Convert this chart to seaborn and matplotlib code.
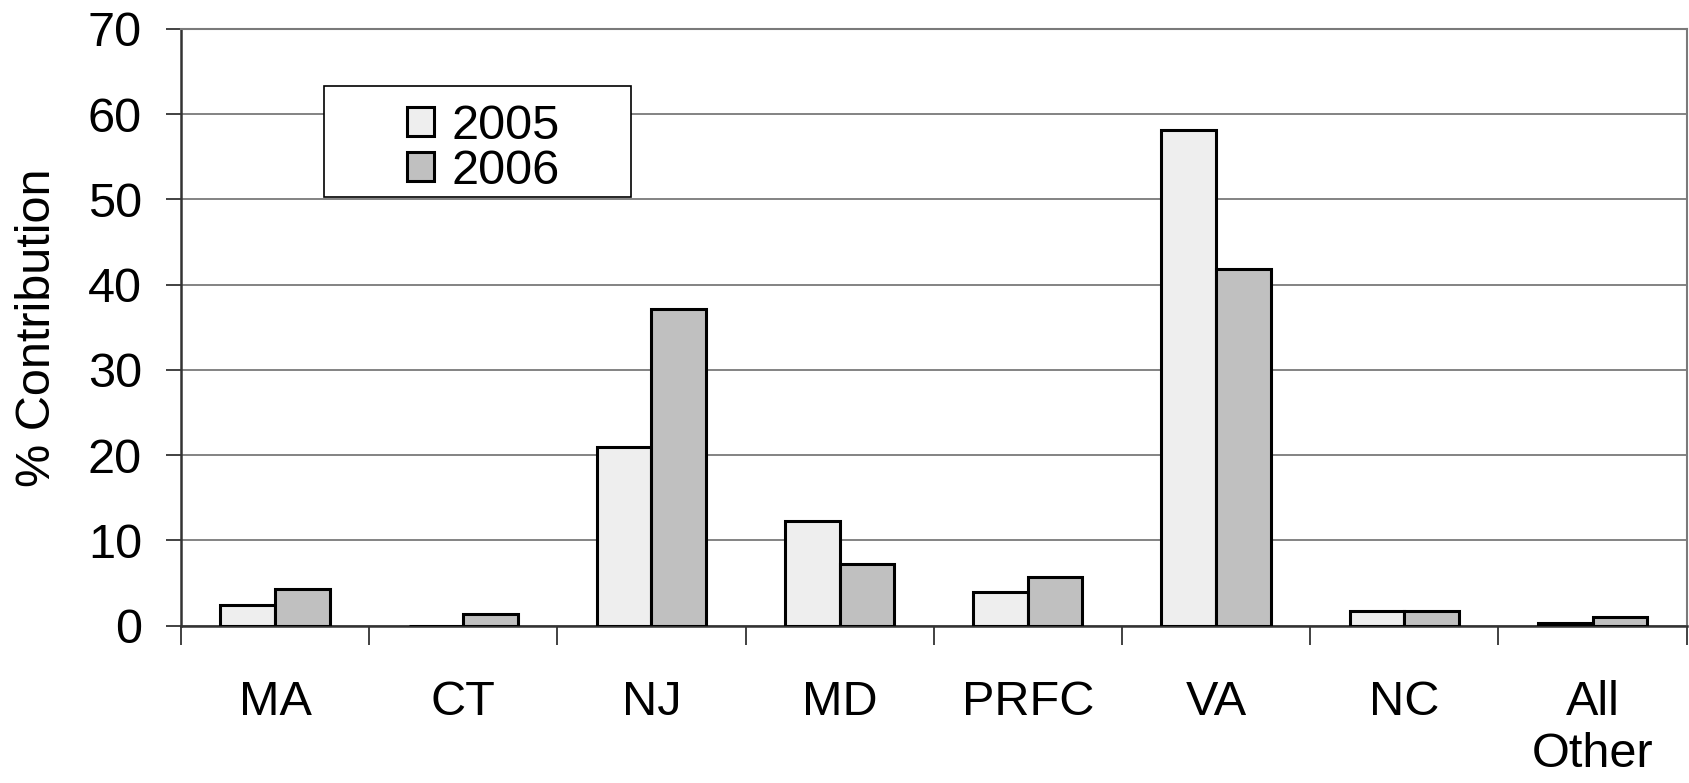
import matplotlib
matplotlib.use("Agg")
import matplotlib.pyplot as plt
from matplotlib.patches import Rectangle
import numpy as np
import pandas as pd
import seaborn as sns

# values
states = ["MA", "CT", "NJ", "MD", "PRFC", "VA", "NC", "All\nOther"]
pct_2005 = [2.4, 0.0, 21.0, 12.3, 3.9, 58.2, 1.7, 0.3]
pct_2006 = [4.3, 1.4, 37.1, 7.2, 5.7, 41.8, 1.7, 1.0]
years = ["2005", "2006"]
y_ticks = [0, 10, 20, 30, 40, 50, 60, 70]

df = pd.DataFrame({
    "state": states * 2,
    "year": [years[0]] * len(states) + [years[1]] * len(states),
    "pct": pct_2005 + pct_2006,
})

FS = 35

sns.set_style("white")
plt.rcParams["font.family"] = ["Liberation Sans", "DejaVu Sans"]
plt.rcParams.update({"text.color": "black", "axes.labelcolor": "black",
                     "xtick.color": "black", "ytick.color": "black"})

fig, ax = plt.subplots(figsize=(16.9, 7.83), dpi=100)
fig.subplots_adjust(left=0.107, right=0.998, top=0.963, bottom=0.201)

sns.barplot(
    data=df, x="state", y="pct", hue="year", order=states, hue_order=years,
    palette={"2005": "#eeeeee", "2006": "#c0c0c0"},
    width=0.58, edgecolor="black", linewidth=2.2, ax=ax, zorder=3,
)

ax.set_ylim(0, 70)
ax.set_xlim(-0.5, len(states) - 0.5)
ax.set_yticks(y_ticks)
ax.yaxis.grid(True, color="#6e6e6e", linewidth=1.2, zorder=0)
ax.set_axisbelow(True)

for side in ["left", "bottom"]:
    ax.spines[side].set_color("#333333")
    ax.spines[side].set_linewidth(1.8)
for side in ["top", "right"]:
    ax.spines[side].set_color("#7a7a7a")
    ax.spines[side].set_linewidth(1.5)

ax.tick_params(axis="y", labelsize=FS, length=11, width=1.3, color="#333333",
               direction="out", left=True, pad=17)
ax.tick_params(axis="x", which="major", labelsize=FS, length=0, pad=39)
ax.set_xticks(np.arange(-0.5, len(states), 1.0), minor=True)
ax.tick_params(axis="x", which="minor", length=14, width=1.3, color="#333333",
               direction="out", bottom=True)

ax.set_xlabel("")
ax.set_ylabel("% Contribution", fontsize=FS, labelpad=20)

# legend box: white frame with the entries centred inside it
ax.add_patch(Rectangle((0.095, 0.718), 0.204, 0.186, transform=ax.transAxes,
                       facecolor="white", edgecolor="black", linewidth=1.2,
                       zorder=5))
leg = ax.legend(
    title=None, loc="center", bbox_to_anchor=(0.201, 0.799),
    fontsize=FS, frameon=False,
    handlelength=0.55, handleheight=0.55, handletextpad=0.35,
    borderpad=0.1, labelspacing=0.0, borderaxespad=0,
)
leg.set_zorder(6)
for h in leg.legend_handles:
    h.set_linewidth(2.2)

fig.savefig("out.png", dpi=100, facecolor="white")
